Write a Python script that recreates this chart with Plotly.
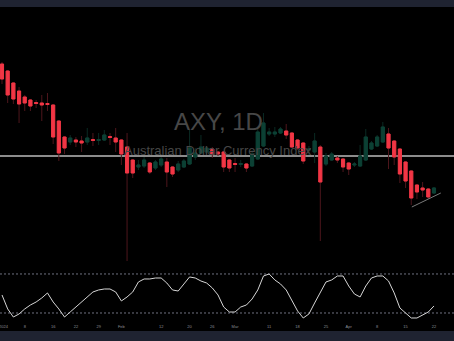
import plotly.graph_objects as go

# ---------------- data ----------------
bar_index = list(range(77))

open_ = [68.72, 68.58, 68.34, 68.18, 68.06, 68.00, 67.95, 67.94, 67.93, 67.90,
         67.58, 67.26, 67.16, 67.20, 67.18, 67.16, 67.21, 67.19, 67.20, 67.27,
         67.24, 67.20, 67.06, 66.80, 66.66, 66.68, 66.74, 66.64, 66.70, 66.76,
         66.66, 66.60, 66.66, 66.72, 66.86, 66.94, 66.96, 67.02, 66.96, 66.96,
         66.80, 66.73, 66.71, 66.72, 66.68, 66.82, 67.08, 67.32, 67.32, 67.34,
         67.38, 67.34, 67.20, 67.14, 67.00, 66.96, 67.06, 66.72, 66.80, 66.84,
         66.82, 66.74, 66.70, 66.68, 66.80, 67.02, 67.08, 67.16, 67.32, 67.18,
         67.02, 66.76, 66.58, 66.30, 66.24, 66.22, 66.14]
high = [68.76, 68.60, 68.36, 68.26, 68.10, 68.02, 68.00, 68.10, 68.14, 67.92,
        67.60, 67.28, 67.30, 67.26, 67.28, 67.44, 67.34, 67.34, 67.40, 67.34,
        67.44, 67.22, 67.34, 66.82, 66.80, 66.86, 66.76, 66.80, 66.86, 66.84,
        66.68, 66.78, 66.82, 67.40, 67.04, 67.30, 67.08, 67.06, 66.98, 66.98,
        66.82, 66.84, 66.80, 66.74, 67.00, 67.42, 67.74, 67.44, 67.46, 67.46,
        67.52, 67.36, 67.22, 67.16, 67.08, 67.34, 67.10, 66.94, 66.96, 66.88,
        66.84, 66.76, 66.76, 67.10, 67.42, 67.18, 67.30, 67.56, 67.44, 67.20,
        67.04, 66.78, 66.60, 66.32, 66.36, 66.24, 66.26]
low = [68.32, 67.94, 67.92, 67.54, 67.78, 67.78, 67.84, 67.58, 67.78, 67.12,
       66.78, 66.92, 67.10, 67.06, 66.96, 67.10, 67.08, 67.10, 67.18, 67.10,
       66.96, 66.70, 64.78, 66.44, 66.60, 66.64, 66.52, 66.60, 66.66, 66.26,
       66.46, 66.56, 66.64, 66.70, 66.80, 66.92, 66.92, 66.84, 66.88, 66.56,
       66.56, 66.56, 66.66, 66.56, 66.66, 66.80, 67.06, 67.28, 67.26, 67.32,
       67.22, 67.04, 67.00, 66.72, 66.90, 66.74, 65.18, 66.68, 66.78, 66.74,
       66.56, 66.50, 66.66, 66.66, 66.78, 67.00, 67.06, 67.14, 66.62, 66.70,
       66.34, 66.24, 65.90, 66.02, 66.06, 66.02, 66.12]
close = [68.42, 68.10, 68.02, 67.92, 67.94, 67.88, 67.93, 67.90, 67.91, 67.26,
         66.94, 67.04, 67.24, 67.16, 67.14, 67.24, 67.19, 67.21, 67.30, 67.25,
         67.16, 66.92, 66.54, 66.54, 66.70, 66.80, 66.56, 66.76, 66.82, 66.56,
         66.52, 66.72, 66.78, 67.04, 66.94, 67.06, 67.04, 66.92, 66.92, 66.66,
         66.64, 66.71, 66.73, 66.64, 66.92, 67.36, 67.54, 67.36, 67.36, 67.42,
         67.30, 67.06, 67.04, 66.78, 67.02, 67.18, 66.36, 66.88, 66.92, 66.80,
         66.66, 66.62, 66.72, 66.88, 67.26, 67.14, 67.26, 67.46, 67.04, 66.86,
         66.52, 66.38, 66.04, 66.16, 66.20, 66.06, 66.24]

oscillator = [47.7, 26.2, 13.8, 18.5, 26.2, 32.3, 36.9, 43.1, 50.8, 36.9,
              26.2, 13.8, 21.5, 29.2, 35.4, 44.6, 52.3, 55.4, 56.9, 56.9,
              52.3, 38.5, 44.6, 52.3, 67.7, 72.3, 72.3, 73.8, 73.8, 66.1,
              55.4, 53.8, 64.6, 75.4, 73.8, 69.2, 66.1, 58.5, 47.7, 29.2,
              21.5, 21.5, 29.2, 32.3, 41.5, 55.4, 76.9, 80.0, 70.8, 64.6,
              55.4, 40.0, 23.1, 12.3, 18.5, 35.4, 52.3, 67.7, 70.8, 76.9,
              76.9, 61.5, 49.2, 44.6, 61.5, 73.8, 76.9, 76.9, 69.2, 50.8,
              27.7, 20.0, 12.3, 12.3, 16.9, 21.5, 30.8]

osc_upper = 80
osc_lower = 20
hline_level = 66.88
trend_x = [72.1, 77.2]
trend_y = [65.86, 66.14]

tick_positions = [0.25, 4, 9, 13, 17, 21, 28, 33, 37, 41, 47, 52, 57, 61, 66, 71, 76]
tick_labels = ["2024", "8", "16", "22", "29", "Feb", "12", "20", "26", "Mar",
               "11", "18", "25", "Apr", "8", "15", "22"]

title_text = "AXY, 1D"
subtitle_text = "Australian Dollar Currency Index"

# ---------------- styling ----------------
RED_BODY = "#f23645"
RED_WICK = "#4e161c"
GREEN_BODY = "#0c4034"
GREEN_WICK = "#0a2a23"
NAVY = "#1f2331"
W, H = 454, 341

body_hi = [max(o, c) for o, c in zip(open_, close)]
body_lo = [min(o, c) for o, c in zip(open_, close)]

fig = go.Figure()

# wicks
fig.add_trace(go.Candlestick(
    x=bar_index, open=open_, high=high, low=low, close=close,
    increasing=dict(line=dict(color=GREEN_WICK, width=1), fillcolor=GREEN_WICK),
    decreasing=dict(line=dict(color=RED_WICK, width=1), fillcolor=RED_WICK),
    whiskerwidth=0, hoverinfo="skip", showlegend=False, xaxis="x", yaxis="y"))
# bodies
fig.add_trace(go.Candlestick(
    x=bar_index, open=open_, high=body_hi, low=body_lo, close=close,
    increasing=dict(line=dict(color=GREEN_BODY, width=1), fillcolor=GREEN_BODY),
    decreasing=dict(line=dict(color=RED_BODY, width=1), fillcolor=RED_BODY),
    whiskerwidth=0, hoverinfo="skip", showlegend=False, xaxis="x", yaxis="y"))

# trend line
fig.add_trace(go.Scatter(x=trend_x, y=trend_y, mode="lines",
                         line=dict(color="#7a7a7a", width=1),
                         showlegend=False, hoverinfo="skip", xaxis="x", yaxis="y"))

# oscillator
fig.add_trace(go.Scatter(x=bar_index, y=oscillator, mode="lines",
                         line=dict(color="#d6d6d6", width=1),
                         showlegend=False, hoverinfo="skip", xaxis="x", yaxis="y2"))

px_to_paper = lambda py: 1 - py / H

shapes = [
    dict(type="rect", xref="paper", yref="paper", x0=0, x1=1,
         y0=px_to_paper(7), y1=1, fillcolor=NAVY, line=dict(width=0), layer="above"),
    dict(type="rect", xref="paper", yref="paper", x0=0, x1=1,
         y0=0, y1=px_to_paper(331), fillcolor=NAVY, line=dict(width=0), layer="above"),
    dict(type="line", xref="paper", yref="y", x0=0, x1=1, y0=hline_level, y1=hline_level,
         line=dict(color="#8c8c8c", width=2), layer="below"),
]
for lvl in (osc_upper, osc_lower):
    shapes.append(dict(type="line", xref="paper", yref="y2", x0=0, x1=1, y0=lvl, y1=lvl,
                       line=dict(color="#6f7280", width=1, dash="2px,2px"), layer="below"))

fig.update_layout(
    width=W, height=H,
    margin=dict(l=0, r=0, t=0, b=0, autoexpand=False),
    paper_bgcolor="#000000", plot_bgcolor="#000000",
    showlegend=False,
    boxgap=0.45, boxgroupgap=0, boxmode="overlay",
    xaxis=dict(range=[-0.352, 79.52], anchor="y2", rangeslider=dict(visible=False),
               showgrid=False, zeroline=False, showline=False, ticks="",
               automargin=False,
               tickmode="array", tickvals=tick_positions, ticktext=tick_labels,
               ticklabeloverflow="allow",
               tickfont=dict(size=4, color="#8a8d96", family="Liberation Sans")),
    yaxis=dict(domain=[px_to_paper(265), px_to_paper(7)], range=[64.70, 69.86],
               showgrid=False, zeroline=False, showticklabels=False, showline=False),
    yaxis2=dict(domain=[px_to_paper(323), px_to_paper(265)], range=[4.6, 93.8],
                showgrid=False, zeroline=False, showticklabels=False, showline=False),
    shapes=shapes,
    annotations=[
        dict(text=title_text, xref="paper", yref="paper", x=218 / W, y=px_to_paper(121),
             xanchor="center", yanchor="middle", showarrow=False,
             font=dict(size=24, color="#474747", family="Liberation Sans")),
        dict(text=subtitle_text, xref="paper", yref="paper", x=218 / W, y=px_to_paper(150),
             xanchor="center", yanchor="middle", showarrow=False,
             font=dict(size=13, color="#474747", family="Liberation Sans")),
    ],
)

fig.write_html("out.html")
